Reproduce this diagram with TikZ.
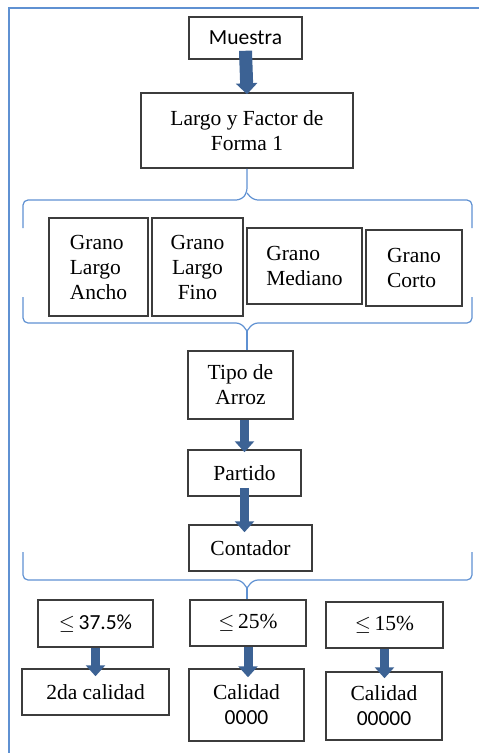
\documentclass[tikz,border=0pt]{standalone}
\usepackage{fontspec}
\setmainfont{Liberation Serif}
\newfontfamily\sansf{Carlito}
\usetikzlibrary{arrows.meta}
\definecolor{boxgray}{RGB}{60,60,60}
\definecolor{arrowblue}{RGB}{60,98,148}
\definecolor{braceblue}{RGB}{95,145,210}

\begin{document}
\begin{tikzpicture}[x=1pt,y=-1pt]
    \tikzset{%
      blk/.style={draw=boxgray, line width=1.5pt, inner sep=0pt,
        align=center, font=\fontsize{21.5}{25}\selectfont},
      barrow/.style={draw=arrowblue, line width=9pt,
        -{Triangle[width=19pt,length=11pt]}},
      brace/.style={draw=braceblue, line width=1.2pt, rounded corners=5pt},
    }
    \useasboundingbox (0,0) rectangle (479,753);
    % frame
    \draw [braceblue, line width=1.2pt] (479,8) -- (9,8) -- (9,753);

    \node[blk, minimum width=113, minimum height=42] (M) at (245.5,38) {\sansf Muestra};
    \node[blk, minimum width=212, minimum height=75] (L) at (247,130.5) {Largo y Factor de\\Forma 1};
    \draw [barrow, line width=13pt, -{Triangle[width=21pt,length=11pt]}]
      ([yshift=9pt]M.south) -- ([yshift=-2pt]L.north);

    % grain classes
    \node[blk, minimum width=99, minimum height=98, align=left] (G1) at (98.5,267) {Grano\\Largo\\Ancho};
    \node[blk, minimum width=91, minimum height=98] (G2) at (197.5,267) {Grano\\Largo\\Fino};
    \node[blk, minimum width=115, minimum height=76, align=left] (G3) at (304.5,266) {Grano\\Mediano};
    \node[blk, minimum width=96, minimum height=76, align=left] (G4) at (414,268) {Grano\\Corto};

    \draw [brace] (L.south) -- (247,193) -- (241,200) -- (23,200) -- (23,228);
    \draw [brace] (247,193) -- (253,200) -- (472,200) -- (472,228);

    \node[blk, minimum width=105, minimum height=68] (T) at (240.5,385) {Tipo de\\Arroz};
    \draw [brace] (23,297) -- (23,323) -- (241,323) -- (247,331);
    \draw [brace] (472,297) -- (472,323) -- (253,323) -- (247,331);
    \draw [braceblue, line width=1.2pt] (247,330) -- (T.north -| 247,0);

    \node[blk, minimum width=113, minimum height=46] (P) at (244.5,473) {Partido};
    \draw [barrow] ([xshift=4pt]T.south) -- ([yshift=-3pt]P.north);
    \node[blk, minimum width=123, minimum height=46] (C) at (250.5,548) {Contador};
    \draw [barrow] ([yshift=9pt]P.south) -- ([yshift=-8pt]C.north -| P.south);

    % thresholds
    \node[blk, minimum width=115, minimum height=47] (Q1) at (95.5,623.5) {$\leq$\,{\sansf 37.5\%}};
    \node[blk, minimum width=116, minimum height=46] (Q2) at (248,623) {$\leq$\,25\%};
    \node[blk, minimum width=117, minimum height=46] (Q3) at (384.5,625) {$\leq$\,15\%};

    \draw [brace] (23,552) -- (23,580) -- (241,580) -- (247,588);
    \draw [brace] (472,552) -- (472,580) -- (253,580) -- (247,588);
    \draw [braceblue, line width=1.2pt] (247,587) -- (Q2.north -| 247,0);

    \node[blk, minimum width=147, minimum height=46] (R1) at (95.5,692) {2da calidad};
    \node[blk, minimum width=115, minimum height=72] (R2) at (246.5,705) {Calidad\\{\sansf 0000}};
    \node[blk, minimum width=116, minimum height=68] (R3) at (384,706) {Calidad\\{\sansf 00000}};
    \draw [barrow] (Q1.south) -- ([yshift=-8pt]R1.north);
    \draw [barrow] (Q2.south) -- ([yshift=-9pt]R2.north -| Q2.south);
    \draw [barrow] (Q3.south) -- ([yshift=-7pt]R3.north -| Q3.south);
\end{tikzpicture}
\end{document}
